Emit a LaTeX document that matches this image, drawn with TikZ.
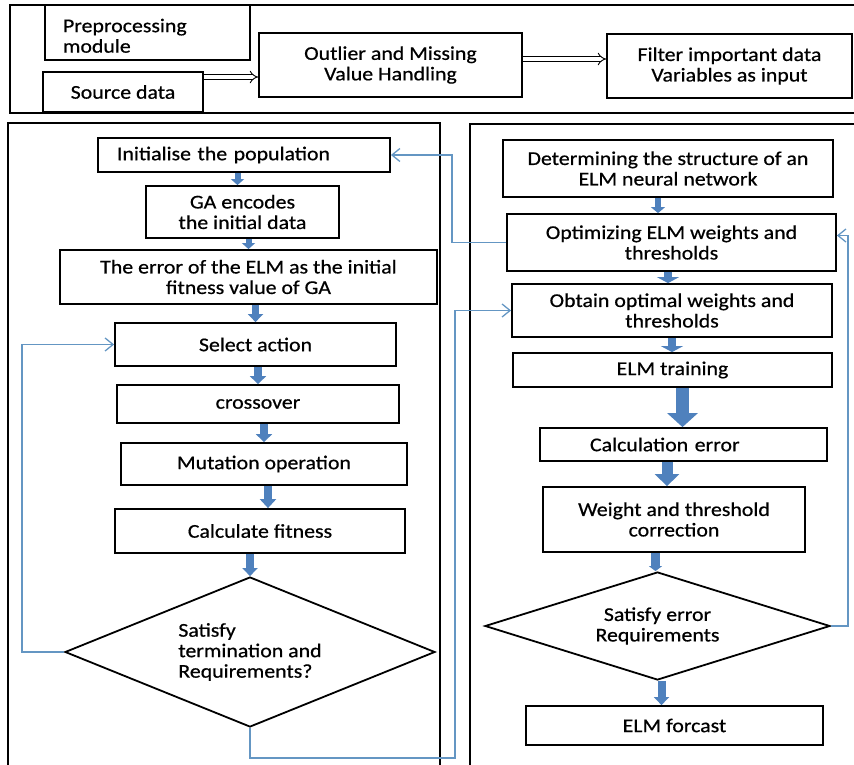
\documentclass[tikz,border=0pt]{standalone}
\usepackage{fontspec}
\setmainfont{Carlito}[FakeStretch=1.12,FakeBold=0.6]
\usetikzlibrary{arrows.meta,shapes.geometric}
\definecolor{blkblue}{RGB}{79,129,189}
\definecolor{loopblue}{RGB}{100,150,195}
\begin{document}
\begin{tikzpicture}[x=1pt,y=-1pt,
  font=\fontsize{19.5}{20.5}\selectfont,
  box/.style={draw, line width=1.8pt, inner sep=0pt, align=center},
  thinbox/.style={draw, line width=1.1pt, inner sep=0pt},
  dia/.style={draw, shape=diamond, line width=1.8pt, inner sep=0pt},
  frame/.style={draw, line width=2pt},
  barrow/.style n args={3}{draw=blkblue, line width=#1, -{Triangle[width=#2,length=#3,fill=blkblue]}},
  loopc/.style={draw=loopblue, line width=1.3pt, -{Straight Barb[length=8pt,width=13pt]}},
  dbl/.style={double, double distance=3.5pt, line width=0.9pt, -{Implies}}
]
\useasboundingbox (0,0) rectangle (854,765);

% ---------- top module ----------
\draw[frame] (10,5) rectangle (870,113);
\node[thinbox, minimum width=205pt, minimum height=55pt, text width=169pt, align=left] (pre) at (147.5,32.5) {\rule{0pt}{20pt}Preprocessing\\module};
\node[box, line width=2.2pt, minimum width=160pt, minimum height=40pt] (src) at (123,92) {Source data};
\node[box, minimum width=263pt, minimum height=64pt] (out) at (390.5,65) {Outlier and Missing\\Value Handling};
\node[box, minimum width=245pt, minimum height=64pt] (fil) at (729.5,66) {Filter important data\\Variables as input};
\coordinate (ya) at (0,77);
\coordinate (yb) at (0,59);
\draw[dbl] (src.east |- ya) -- (out.west |- ya);
\draw[dbl] (out.east |- yb) -- (fil.west |- yb);

% ---------- panels ----------
\draw[frame] (8,790) -- (8,123) -- (440,123) -- (440,790);
\draw[frame] (470,790) -- (470,124) -- (880,124);

% ---------- left flow ----------
\node[box, minimum width=292pt, minimum height=34pt, text width=254pt, align=left] (init) at (244,155) {Initialise the population};
\node[box, minimum width=193pt, minimum height=52pt] (ga) at (242.5,212) {GA encodes\\the initial data};
\node[box, minimum width=377pt, minimum height=54pt] (err) at (248.5,277) {The error of the ELM as the initial\\fitness value of GA};
\node[box, minimum width=281pt, minimum height=43pt] (sel) at (255.5,344.5) {Select action};
\node[box, minimum width=282pt, minimum height=38pt] (cross) at (258,404) {crossover};
\node[box, minimum width=286pt, minimum height=42pt] (mut) at (264,464) {Mutation operation};
\node[box, minimum width=290pt, minimum height=44pt] (calc) at (260,531) {Calculate fitness};
\node[dia, minimum width=370pt, minimum height=150pt, aspect=2.5, align=left] (dL) at (250,652) {Satisfy\\termination and\\Requirements?};

% ---------- right flow ----------
\node[box, minimum width=330pt, minimum height=57pt] (det) at (668,168.5) {Determining the structure of an\\ELM neural network};
\node[box, minimum width=329pt, minimum height=57pt] (opt) at (671.5,242.5) {Optimizing ELM weights and\\thresholds};
\node[box, minimum width=320pt, minimum height=53pt] (obt) at (672,310.5) {Obtain optimal weights and\\thresholds};
\node[box, minimum width=319pt, minimum height=34pt] (trn) at (672.5,370) {ELM training};
\node[box, minimum width=287pt, minimum height=33pt, text width=187pt, align=left] (cerr) at (683.5,444.5) {Calculation error};
\node[box, minimum width=262pt, minimum height=65pt] (wt) at (674,519.5) {Weight and threshold\\correction};
\node[dia, minimum width=345pt, minimum height=108pt, aspect=3.2, align=center] (dR) at (657.5,626) {Satisfy error\\Requirements};
\node[box, minimum width=297pt, minimum height=39pt] (fc) at (674.5,725.5) {ELM forcast};

% ---------- block arrows ----------
\draw[barrow={6pt}{13pt}{6pt}] ([xshift=-5pt]ga.north |- init.south) -- ([xshift=-5pt]ga.north);
\draw[barrow={6pt}{13pt}{6pt}] (err.north |- ga.south) -- (err.north);
\draw[barrow={7pt}{15pt}{8pt}] (sel.north |- err.south) -- (sel.north);
\draw[barrow={8pt}{16pt}{8pt}] (cross.north |- sel.south) -- (cross.north);
\draw[barrow={8pt}{16pt}{8pt}] (mut.north |- cross.south) -- (mut.north);
\draw[barrow={8pt}{16pt}{9pt}] ([xshift=4pt]mut.south) -- ([xshift=4pt]mut.south |- calc.north);
\draw[barrow={8pt}{15pt}{8pt}] (dL.north |- calc.south) -- (dL.north);

\draw[barrow={6pt}{14pt}{6pt}] ([xshift=-10pt]det.south) -- ([xshift=-10pt]det.south |- opt.north);
\draw[barrow={8pt}{22pt}{6pt}] ([xshift=-4pt]obt.north |- opt.south) -- ([xshift=-4pt]obt.north);
\draw[barrow={8pt}{22pt}{6pt}] (obt.south) -- (obt.south |- trn.north);
\draw[barrow={13pt}{30pt}{14pt}] ([xshift=-1pt]cerr.north |- trn.south) -- ([xshift=-1pt]cerr.north);
\draw[barrow={11pt}{24pt}{12pt}] ([xshift=-7pt]wt.north |- cerr.south) -- ([xshift=-7pt]wt.north);
\draw[barrow={9pt}{13pt}{5pt}] ([xshift=-2pt]dR.north |- wt.south) -- ([xshift=-2pt]dR.north);
\draw[barrow={8pt}{15pt}{8pt}] ([xshift=4pt]dR.south) -- ([xshift=4pt]dR.south |- fc.north);

% ---------- loop connectors ----------
\coordinate (lk) at (22,0);
\draw[loopc] (dL.west) -| (lk |- sel.west) -- (sel.west);
\coordinate (bk) at (455,758);
\draw[loopc] (dL.south) |- (bk) |- (obt.west);
\coordinate (tk) at (452,0);
\draw[loopc] (opt.west) -| (tk |- init.east) -- (init.east);
\coordinate (rk) at (848,0);
\coordinate (oe) at ([yshift=7pt]opt.east);
\draw[loopc] (dR.east) -| (rk |- oe) -- (oe);
\end{tikzpicture}
\end{document}
